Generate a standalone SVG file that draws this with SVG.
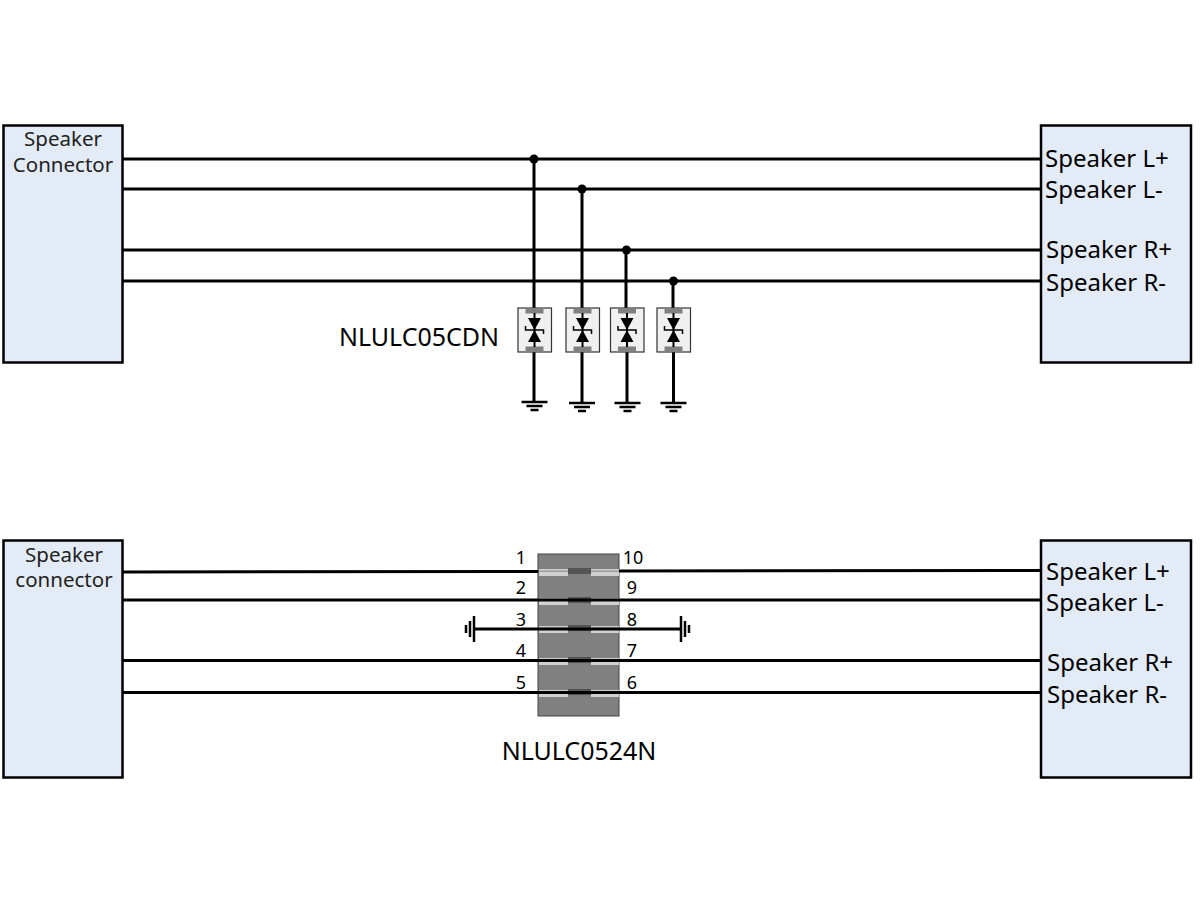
<svg xmlns="http://www.w3.org/2000/svg" width="1200" height="900" viewBox="0 0 1200 900">
<style>
.box{fill:#e3ebf7;stroke:#000;stroke-width:2.5}
.w{fill:none;stroke:#000;stroke-width:3}
.t{font-family:"Noto Sans","Open Sans",sans-serif;fill:#000}
.h{font-size:20.5px;text-anchor:middle;fill:#222}
.s{font-size:24px}
.p{font-size:18px;text-anchor:middle}
.l{font-size:25px;text-anchor:middle}
.pad{fill:#bdbdbd}
</style>
<defs>
<g id="tvs">
<rect x="-16.5" y="0" width="33.5" height="44" fill="#f0f0f0" stroke="#333" stroke-width="1.2"/>
<rect x="-9" y="0.5" width="18" height="5" fill="#808080"/>
<rect x="-9" y="38.5" width="18" height="5.5" fill="#808080"/>
<path d="M0 5V39" stroke="#000" stroke-width="2" fill="none"/>
<path d="M-6.5 10H6.5L0 22ZM-6.5 34H6.5L0 22Z" fill="#000"/>
<path d="M-9 18V22H9V26" fill="none" stroke="#000" stroke-width="1.5"/>
</g>
<g id="gnd">
<path d="M-13 0H13M-8 4H8M-4 8H4" stroke="#000" stroke-width="2.5" fill="none"/>
</g>
<g id="gndh">
<path d="M0 -13V13M4 -8V8M8 -4V4" stroke="#000" stroke-width="2.5" fill="none"/>
</g>
<g id="pins">
<rect x="0" y="0" width="29" height="7" fill="#d0d0d0"/>
<rect x="0" y="1.5" width="29" height="1.5" fill="#9a9a9a"/>
<rect x="52" y="0" width="28" height="7" fill="#d0d0d0"/>
<rect x="52" y="1.5" width="28" height="1.5" fill="#9a9a9a"/>
<rect x="29" y="-1" width="23" height="6" fill="#555"/>
</g>
</defs>

<g id="connectors-top">
<path class="w" d="M122 159H1042M122 189H1042M122 250H1042M122 281H1042"/>
<path class="w" d="M534 159V308M534 352V401M582 189V308M582 352V402M626 250V308M627 352V402M673 281V308M673.500 352V402"/>
<circle cx="534" cy="159" r="4.500"/>
<circle cx="582" cy="189" r="4.500"/>
<circle cx="626.500" cy="250" r="4.500"/>
<circle cx="673.500" cy="281" r="4.500"/>
</g>

<g id="node-speaker-connector-top">
<rect class="box" x="3.500" y="125.500" width="119" height="237"/>
<text class="t h" x="63" y="146">Speaker</text>
<text class="t h" x="63" y="172">Connector</text>
</g>
<g id="node-speaker-top">
<rect class="box" x="1041" y="125.500" width="150" height="237"/>
<text class="t s" x="1045" y="167">Speaker L+</text>
<text class="t s" x="1045" y="198">Speaker L-</text>
<text class="t s" x="1046" y="258">Speaker R+</text>
<text class="t s" x="1046" y="291">Speaker R-</text>
</g>

<g id="node-nlulc05cdn">
<use href="#tvs" x="534.500" y="308"/>
<use href="#tvs" x="582.500" y="308"/>
<use href="#tvs" x="627" y="308"/>
<use href="#tvs" x="673.500" y="308"/>
<use href="#gnd" x="534.500" y="402"/>
<use href="#gnd" x="582" y="403"/>
<use href="#gnd" x="627.500" y="403"/>
<use href="#gnd" x="673.500" y="403"/>
<text class="t l" x="419" y="346">NLULC05CDN</text>
</g>

<g id="node-nlulc0524n">
<rect x="538" y="554" width="81" height="162" fill="#808080" stroke="#444" stroke-width="1"/>
<use href="#pins" x="539" y="569"/>
<use href="#pins" x="539" y="598"/>
<use href="#pins" x="539" y="626"/>
<use href="#pins" x="539" y="658"/>
<use href="#pins" x="539" y="690"/>
<text class="t p" x="521" y="564">1</text>
<text class="t p" x="521" y="594">2</text>
<text class="t p" x="521" y="626">3</text>
<text class="t p" x="521" y="657">4</text>
<text class="t p" x="521" y="689">5</text>
<text class="t p" x="633" y="564">10</text>
<text class="t p" x="632" y="594">9</text>
<text class="t p" x="632" y="626">8</text>
<text class="t p" x="632" y="657">7</text>
<text class="t p" x="632" y="689">6</text>
<text class="t l" x="579" y="760">NLULC0524N</text>
</g>

<g id="connectors-bottom">
<path class="w" d="M122 572L538 571.500M619 571L1042 570.500M122 600H1042M475 629H681M122 660.500H1042M122 692.500H1042"/>
<use href="#gndh" x="474" y="629" transform="rotate(180 474 629)"/>
<use href="#gndh" x="681" y="629"/>
</g>

<g id="node-speaker-connector-bottom">
<rect class="box" x="3.500" y="540.500" width="119" height="237"/>
<text class="t h" x="64" y="562">Speaker</text>
<text class="t h" x="64" y="587">connector</text>
</g>
<g id="node-speaker-bottom">
<rect class="box" x="1041" y="540.500" width="150" height="237"/>
<text class="t s" x="1046" y="580">Speaker L+</text>
<text class="t s" x="1046" y="611">Speaker L-</text>
<text class="t s" x="1047" y="671">Speaker R+</text>
<text class="t s" x="1047" y="703">Speaker R-</text>
</g>
</svg>
